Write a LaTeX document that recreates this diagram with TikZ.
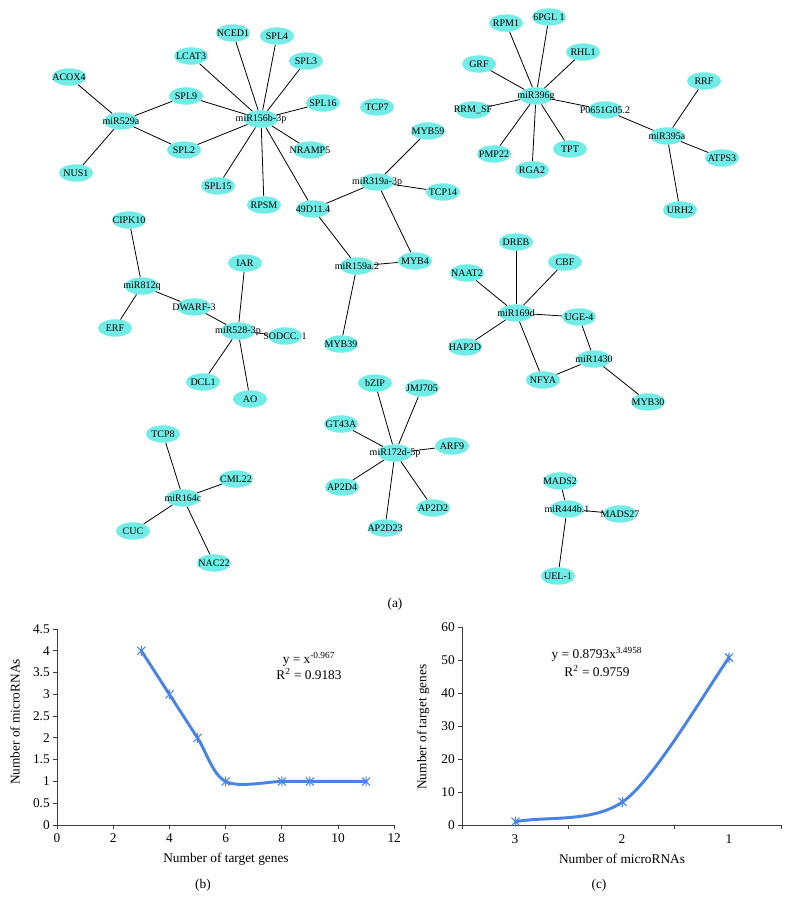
\documentclass[tikz,border=0pt]{standalone}
\usepackage{fontspec}
\setmainfont{Liberation Serif}
\usetikzlibrary{shapes.geometric}
\definecolor{gfill}{RGB}{114,236,230}
\definecolor{cblue}{RGB}{72,132,228}
\definecolor{axisc}{RGB}{60,60,60}
\tikzset{
  gene/.style={ellipse, fill=gfill, minimum width=25.5pt, minimum height=13pt, inner sep=0pt, font=\fontsize{7.5}{8}\selectfont},
  link/.style={draw=black, line width=0.6pt},
  axisline/.style={draw=axisc, line width=0.7pt},
  plottxt/.style={font=\fontsize{10}{11}\selectfont, inner sep=0pt},
  curve/.style={draw=cblue, line width=2.2pt, line cap=round, line join=round},
  starmark/.style={draw=cblue, line width=0.8pt}
}
\newcommand\gn[4]{\node[gene] (#1) at (#2,#3) {\makebox[0pt]{#4}};}
\newcommand\starpt[2]{\draw[starmark] (#1-4,#2-4) -- (#1+4,#2+4) (#1-4,#2+4) -- (#1+4,#2-4) (#1,#2-5) -- (#1,#2+5);}
\begin{document}
\begin{tikzpicture}[x=0.75pt,y=-0.75pt]
\useasboundingbox (0,0) rectangle (790,911);
% ---------- network nodes ----------
\gn{ACOX4}{69}{77}{ACOX4}
\gn{NUS1}{76}{173}{NUS1}
\gn{m529}{121}{121}{miR529a}
\gn{SPL9}{186}{96}{SPL9}
\gn{SPL2}{184}{150}{SPL2}
\gn{m156}{261}{119}{miR156b-3p}
\gn{LCAT3}{191}{56}{LCAT3}
\gn{NCED1}{233}{33}{NCED1}
\gn{SPL4}{277}{36}{SPL4}
\gn{SPL3}{306}{61}{SPL3}
\gn{SPL16}{323}{103}{SPL16}
\gn{NRAMP5}{310}{150}{NRAMP5}
\gn{SPL15}{218}{186}{SPL15}
\gn{RPSM}{264}{205}{RPSM}
\gn{D49}{313}{209}{49D11.4}
\gn{TCP7}{377}{107}{TCP7}
\gn{m319}{377}{182}{miR319a-3p}
\gn{MYB59}{428}{131}{MYB59}
\gn{TCP14}{443}{192}{TCP14}
\gn{MYB4}{415}{261}{MYB4}
\gn{m159}{357}{266}{miR159a.2}
\gn{MYB39}{341}{344}{MYB39}
\gn{RPM1}{506}{23}{RPM1}
\gn{PGL}{549}{17}{6PGL 1}
\gn{RHL1}{583}{52}{RHL1}
\gn{GRF}{479}{64}{GRF}
\gn{m396}{536}{96}{miR396g}
\gn{RRM}{473}{110}{RRM\_SF}
\gn{P065}{605}{110}{P0651G05.2}
\gn{PMP22}{494}{154}{PMP22}
\gn{RGA2}{532}{170}{RGA2}
\gn{TPT}{570}{149}{TPT}
\gn{RRF}{704}{81}{RRF}
\gn{m395}{667}{136}{miR395a}
\gn{ATPS3}{722}{158}{ATPS3}
\gn{URH2}{680}{210}{URH2}
\gn{CIPK10}{129}{220}{CIPK10}
\gn{m812}{142}{286}{miR812q}
\gn{ERF}{115}{328}{ERF}
\gn{DWARF}{194}{307}{DWARF-3}
\gn{m528}{238}{331}{miR528-3p}
\gn{IAR}{245}{263}{IAR}
\gn{SODCC}{285}{336}{SODCC. 1}
\gn{DCL1}{203}{382}{DCL1}
\gn{AO}{250}{399}{AO}
\gn{DREB}{516}{242}{DREB}
\gn{CBF}{565}{262}{CBF}
\gn{NAAT2}{467}{273}{NAAT2}
\gn{m169}{516}{313}{miR169d}
\gn{UGE4}{579}{317}{UGE-4}
\gn{HAP2D}{465}{347}{HAP2D}
\gn{m1430}{594}{359}{miR1430}
\gn{NFYA}{543}{380}{NFYA}
\gn{MYB30}{648}{402}{MYB30}
\gn{bZIP}{375}{383}{bZIP}
\gn{JMJ705}{422}{388}{JMJ705}
\gn{GT43A}{341}{424}{GT43A}
\gn{ARF9}{452}{446}{ARF9}
\gn{m172}{395}{453}{miR172d-5p}
\gn{AP2D4}{342}{487}{AP2D4}
\gn{AP2D2}{433}{508}{AP2D2}
\gn{AP2D23}{385}{528}{AP2D23}
\gn{TCP8}{163}{434}{TCP8}
\gn{CML22}{236}{479}{CML22}
\gn{m164}{183}{498}{miR164c}
\gn{CUC}{133}{531}{CUC}
\gn{NAC22}{214}{563}{NAC22}
\gn{MADS2}{560}{481}{MADS2}
\gn{m444}{567}{509}{miR444b.1}
\gn{MADS27}{620}{514}{MADS27}
\gn{UEL1}{558}{576}{UEL-1}
% ---------- network edges ----------
\foreach \t in {ACOX4,NUS1,SPL9,SPL2} \draw[link] (m529) -- (\t);
\foreach \t in {SPL9,SPL2,LCAT3,NCED1,SPL4,SPL3,SPL16,NRAMP5,SPL15,RPSM,D49} \draw[link] (m156) -- (\t);
\foreach \t in {D49,MYB59,TCP14,MYB4} \draw[link] (m319) -- (\t);
\foreach \t in {D49,MYB4,MYB39} \draw[link] (m159) -- (\t);
\foreach \t in {RPM1,PGL,RHL1,GRF,RRM,P065,PMP22,RGA2,TPT} \draw[link] (m396) -- (\t);
\foreach \t in {P065,RRF,ATPS3,URH2} \draw[link] (m395) -- (\t);
\foreach \t in {CIPK10,ERF,DWARF} \draw[link] (m812) -- (\t);
\foreach \t in {DWARF,IAR,SODCC,DCL1,AO} \draw[link] (m528) -- (\t);
\foreach \t in {DREB,CBF,NAAT2,UGE4,HAP2D,NFYA} \draw[link] (m169) -- (\t);
\foreach \t in {UGE4,NFYA,MYB30} \draw[link] (m1430) -- (\t);
\foreach \t in {bZIP,JMJ705,GT43A,ARF9,AP2D4,AP2D2,AP2D23} \draw[link] (m172) -- (\t);
\foreach \t in {TCP8,CML22,CUC,NAC22} \draw[link] (m164) -- (\t);
\foreach \t in {MADS2,MADS27,UEL1} \draw[link] (m444) -- (\t);
\node[plottxt] (capa) at (395,604) {(a)};
% ---------- plot (b) ----------
\draw[axisline] (57,629) -- (57,825) -- (395,825);
\foreach \v/\l in {0/0,0.5/0.5,1/1,1.5/1.5,2/2,2.5/2.5,3/3,3.5/3.5,4/4,4.5/4.5}{
  \draw[axisline] (57,{825-43.55*\v}) -- (53,{825-43.55*\v});
  \node[plottxt, anchor=east] at (50,{825-43.55*\v}) {\l};
}
\foreach \v in {0,2,4,6,8,10,12}{
  \draw[axisline] ({57+28.1*\v},825) -- ({57+28.1*\v},829);
  \node[plottxt] at ({57+28.1*\v},838) {\v};
}
\draw[curve] plot[smooth, tension=0.55] coordinates {
  ({57+28.1*3},{825-43.55*4}) ({57+28.1*4},{825-43.55*3}) ({57+28.1*5},{825-43.55*2})
  ({57+28.1*6},{825-43.55*1}) ({57+28.1*8},{825-43.55*1}) ({57+28.1*9},{825-43.55*1})
  ({57+28.1*11},{825-43.55*1})};
\foreach \px/\py in {3/4,4/3,5/2,6/1,8/1,9/1,11/1}{
  \pgfmathsetmacro\xx{57+28.1*\px}\pgfmathsetmacro\yy{825-43.55*\py}
  \starpt{\xx}{\yy}
}
\node[plottxt] (eqb1) at (309,659) {y = x\textsuperscript{-0.967}};
\node[plottxt] (eqb2) at (309,674) {R\textsuperscript{2} = 0.9183};
\node[plottxt] (xlb) at (226,859) {Number of target genes};
\node[plottxt, rotate=90] (ylb) at (15,722) {Number of microRNAs};
\node[plottxt] (capb) at (203,885) {(b)};
% ---------- plot (c) ----------
\draw[axisline] (462,627) -- (462,825) -- (781,825);
\foreach \v in {0,10,20,30,40,50,60}{
  \draw[axisline] (462,{825-3.3*\v}) -- (458,{825-3.3*\v});
  \node[plottxt, anchor=east] at (455,{825-3.3*\v}) {\v};
}
\foreach \xv in {462,568.3,674.7,781}{
  \draw[axisline] (\xv,825) -- (\xv,829);
}
\node[plottxt] at (515,839) {3};
\node[plottxt] at (622,839) {2};
\node[plottxt] at (729,839) {1};
\draw[curve] (515.5,821.7) .. controls (545,816) and (592,823) .. (622.5,801.9)
  .. controls (652,782) and (700,700) .. (729,657.5);
\starpt{515.5}{821.7}
\starpt{622.5}{801.9}
\starpt{729}{657.5}
\node[plottxt] (eqc1) at (597,654) {y = 0.8793x\textsuperscript{3.4958}};
\node[plottxt] (eqc2) at (597,671) {R\textsuperscript{2} = 0.9759};
\node[plottxt] (xlc) at (622,859) {Number of microRNAs};
\node[plottxt, rotate=90] (ylc) at (423,727) {Number of target genes};
\node[plottxt] (capc) at (599,885) {(c)};
\end{tikzpicture}
\end{document}
